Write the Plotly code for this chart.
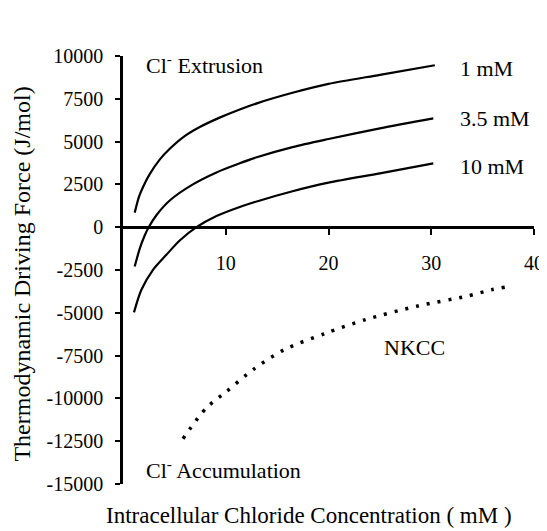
import plotly.graph_objects as go

# 1 mM [K+]o
k1_x = [1.14, 1.56, 1.95, 2.6, 3.57, 4.55, 5.84, 7.47, 9.4, 11.36, 13.1, 16.5, 20.0, 25.0, 30.35]
k1_y = [851, 1783, 2350, 3100, 3950, 4580, 5250, 5850, 6400, 6880, 7250, 7850, 8370, 8900, 9459]
# 3.5 mM [K+]o
k35_x = [1.14, 1.63, 2.1, 2.5, 3.25, 4.55, 6.8, 9.1, 11.36, 13.1, 16.5, 20.0, 25.0, 30.2]
k35_y = [-2296, -1250, -500, 0, 700, 1560, 2500, 3200, 3730, 4100, 4680, 5150, 5770, 6353]
# 10 mM [K+]o
k10_x = [1.07, 1.79, 2.92, 4.22, 5.52, 7.15, 9.1, 11.36, 13.1, 16.5, 20.0, 25.0, 30.2]
k10_y = [-4977, -3654, -2489, -1614, -780, 0, 650, 1180, 1520, 2100, 2600, 3147, 3730]
# NKCC
nkcc_x = [5.84, 8.12, 10.07, 12.7, 15.7, 19.7, 23.6, 28.7, 33.4, 35.87, 37.26]
nkcc_y = [-12355, -10549, -9600, -8300, -7150, -6200, -5400, -4600, -4040, -3654, -3497]

y_ticks = [10000, 7500, 5000, 2500, 0, -2500, -5000, -7500, -10000, -12500, -15000]
x_ticks = [10, 20, 30, 40]

FONT = "Liberation Serif"
fig = go.Figure()
for xs, ys in [(k1_x, k1_y), (k35_x, k35_y), (k10_x, k10_y)]:
    fig.add_trace(go.Scatter(x=xs, y=ys, mode="lines",
                             line=dict(color="black", width=2.2, shape="spline", smoothing=0.8),
                             showlegend=False, hoverinfo="skip"))
fig.add_trace(go.Scatter(x=nkcc_x, y=nkcc_y, mode="lines",
                         line=dict(color="black", width=3.5, dash="3px,8px", shape="spline", smoothing=0.8),
                         showlegend=False, hoverinfo="skip"))

fig.update_layout(
    width=547, height=531,
    margin=dict(l=115, r=21, t=48, b=55),
    paper_bgcolor="white", plot_bgcolor="white",
    font=dict(family=FONT, size=20, color="black"),
    xaxis=dict(range=[0, 40], tickvals=x_ticks, ticktext=[str(v) for v in x_ticks],
               showgrid=False, zeroline=False, showline=True, linecolor="black", linewidth=2.5,
               ticks="outside", ticklen=6, tickwidth=2, tickcolor="black",
               anchor="free", position=0.6, ticklabelstandoff=11,
               tickfont=dict(family=FONT, size=20)),
    yaxis=dict(range=[-15000, 10000], tickvals=y_ticks, ticktext=[str(v) for v in y_ticks],
               showgrid=False, zeroline=False, showline=True, linecolor="black", linewidth=2.5,
               ticks="outside", ticklen=5, tickwidth=2, tickcolor="black",
               ticklabelstandoff=8,
               tickfont=dict(family=FONT, size=20)),
)

ann = [
    dict(text="Cl<sup>-</sup> Extrusion", x=2.0, y=9558, xanchor="left"),
    dict(text="1 mM", x=32.6, y=9267, xanchor="left"),
    dict(text="3.5 mM", x=32.6, y=6353, xanchor="left"),
    dict(text="10 mM", x=32.6, y=3532, xanchor="left"),
    dict(text="[K<sup>+</sup>]<sub>o</sub>", x=33.2, y=11732, xanchor="left"),
    dict(text="NKCC", x=28.4, y=-7034, xanchor="center"),
    dict(text="Cl<sup>-</sup> Accumulation", x=2.0, y=-14145, xanchor="left"),
]
for a in ann:
    fig.add_annotation(xref="x", yref="y", showarrow=False, yanchor="middle",
                       font=dict(family=FONT, size=22, color="black"), **a)
# axis titles
fig.add_annotation(xref="paper", yref="paper", x=0.452, y=-0.073, yanchor="middle", xanchor="center",
                   showarrow=False, text="Intracellular Chloride Concentration ( mM )",
                   font=dict(family=FONT, size=23, color="black"))
fig.add_annotation(xref="paper", yref="paper", x=-0.245, y=0.49, yanchor="middle", xanchor="center",
                   textangle=-90, showarrow=False, text="Thermodynamic Driving Force (J/mol)",
                   font=dict(family=FONT, size=24, color="black"))

fig.write_html("out.html")
